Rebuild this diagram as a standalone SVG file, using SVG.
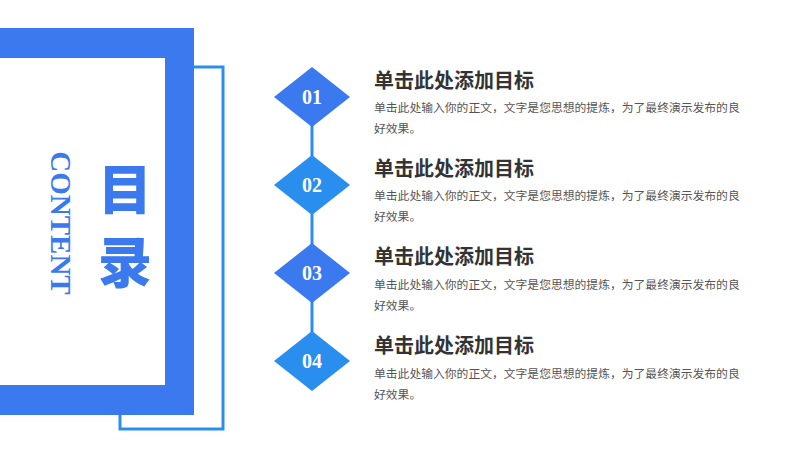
<svg xmlns="http://www.w3.org/2000/svg" width="800" height="450" viewBox="0 0 800 450">
<style>
.t{font-family:"Noto Sans CJK SC","Liberation Sans",sans-serif;font-weight:700;font-size:20px;fill:#333}
.b{font-family:"Noto Sans CJK SC","Liberation Sans",sans-serif;font-size:11.8px;fill:#555}
.n{font-family:"Liberation Serif",serif;font-weight:700;font-size:20px;fill:#fff;text-anchor:middle}
.d1{fill:#3a7aee}.d2{fill:#2a8eee}
</style>
<rect width="800" height="450" fill="#fff"/>
<g id="frame">
<rect x="120" y="67" width="103" height="362" fill="none" stroke="#2a8eee" stroke-width="3"/>
<rect x="0" y="28" width="194" height="387" fill="#3a7aee"/>
<rect x="0" y="58" width="165" height="327" fill="#fff"/>
<text x="125" y="210" font-family="Noto Sans CJK SC,sans-serif" font-weight="900" font-size="54" fill="#3a7aee" text-anchor="middle">目</text>
<text x="125" y="283" font-family="Noto Sans CJK SC,sans-serif" font-weight="900" font-size="54" fill="#3a7aee" text-anchor="middle">录</text>
<text transform="translate(51,223) rotate(90)" font-family="Liberation Serif,serif" font-weight="700" font-size="29" fill="#3a7aee" text-anchor="middle">CONTENT</text>
</g>
<g id="connectors"><line x1="312" y1="97" x2="312" y2="361" stroke="#2a8eee" stroke-width="3"/></g>
<g id="n1"><polygon class="d1" points="312,67 350,97 312,127 274,97"/><text class="n" x="312" y="104">01</text>
<text class="t" x="374" y="88">单击此处添加目标</text><text class="b" x="374" y="112">单击此处输入你的正文，文字是您思想的提炼，为了最终演示发布的良</text><text class="b" x="374" y="133">好效果。</text></g>
<g id="n2"><polygon class="d2" points="312,155 350,185 312,215 274,185"/><text class="n" x="312" y="192">02</text>
<text class="t" x="374" y="176">单击此处添加目标</text><text class="b" x="374" y="200">单击此处输入你的正文，文字是您思想的提炼，为了最终演示发布的良</text><text class="b" x="374" y="221">好效果。</text></g>
<g id="n3"><polygon class="d1" points="312,243 350,273 312,303 274,273"/><text class="n" x="312" y="280">03</text>
<text class="t" x="374" y="264">单击此处添加目标</text><text class="b" x="374" y="289">单击此处输入你的正文，文字是您思想的提炼，为了最终演示发布的良</text><text class="b" x="374" y="310">好效果。</text></g>
<g id="n4"><polygon class="d2" points="312,331 350,361 312,391 274,361"/><text class="n" x="312" y="368">04</text>
<text class="t" x="374" y="353">单击此处添加目标</text><text class="b" x="374" y="378">单击此处输入你的正文，文字是您思想的提炼，为了最终演示发布的良</text><text class="b" x="374" y="399">好效果。</text></g>
</svg>
